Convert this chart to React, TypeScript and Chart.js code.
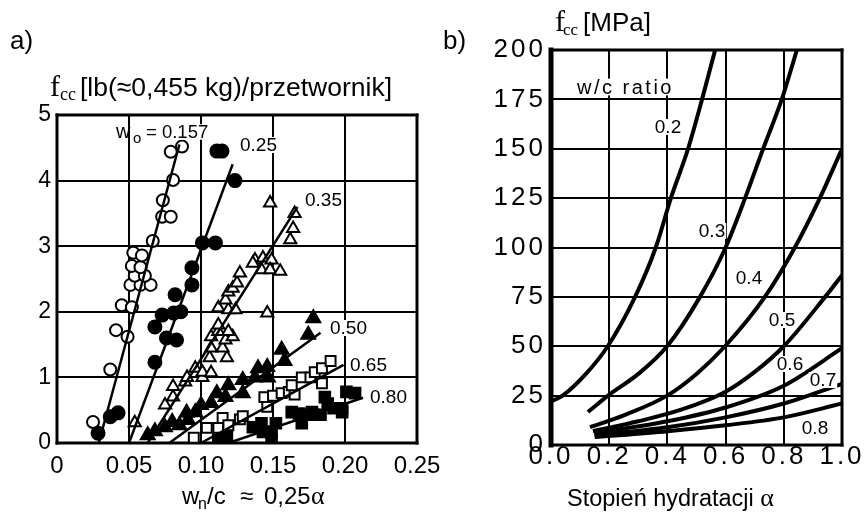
import { useEffect, useRef } from "react";
import { Chart, registerables } from "chart.js";
Chart.register(...registerables);

// ---------------- Panel a data ----------------
const xTicksA = [0, 0.05, 0.1, 0.15, 0.2, 0.25];
const xTickLabelsA = ["0", "0.05", "0.10", "0.15", "0.20", "0.25"];
const yTicksA = [0, 1, 2, 3, 4, 5];

const seriesNamesA = ["0.157", "0.25", "0.35", "0.50", "0.65", "0.80"];

const pts157: [number, number][] = [
  [0.025, 0.32], [0.037, 1.12], [0.041, 1.72], [0.049, 1.62], [0.045, 2.1], [0.052, 2.07],
  [0.051, 2.41], [0.058, 2.41], [0.065, 2.41], [0.054, 2.55], [0.061, 2.55], [0.052, 2.7],
  [0.058, 2.68], [0.053, 2.9], [0.059, 2.86], [0.0665, 3.08], [0.073, 3.45], [0.079, 3.45],
  [0.0735, 3.7], [0.0806, 4.01], [0.079, 4.44], [0.0868, 4.52],
];
const pts025: [number, number][] = [
  [0.0285, 0.15], [0.037, 0.4], [0.0424, 0.46], [0.068, 1.23], [0.068, 1.77], [0.076, 1.6],
  [0.083, 1.57], [0.073, 1.95], [0.081, 1.98], [0.086, 2.0], [0.082, 2.26], [0.0937, 2.41],
  [0.0937, 2.67], [0.101, 3.05], [0.11, 3.05], [0.111, 4.45], [0.1146, 4.45], [0.1236, 4.0],
];
const pts035: [number, number][] = [
  [0.054, 0.31], [0.075, 0.58], [0.0806, 0.7], [0.0806, 0.86], [0.089, 0.93], [0.0903, 1.0],
  [0.101, 1.0], [0.096, 1.14], [0.101, 1.08], [0.107, 1.07], [0.106, 1.3], [0.118, 1.3],
  [0.107, 1.45], [0.115, 1.45], [0.107, 1.62], [0.117, 1.57], [0.122, 1.62], [0.112, 1.7],
  [0.119, 1.7], [0.112, 1.8], [0.112, 2.06], [0.119, 2.03], [0.124, 2.03], [0.117, 2.18],
  [0.119, 2.3], [0.122, 2.36], [0.125, 2.44], [0.127, 2.59], [0.146, 1.98], [0.1375, 2.79],
  [0.143, 2.82], [0.149, 2.79], [0.142, 2.64], [0.148, 2.64], [0.155, 2.62], [0.136, 2.74],
  [0.162, 3.1], [0.164, 3.27], [0.165, 3.5], [0.148, 3.66],
];
const pts050: [number, number][] = [
  [0.063, 0.12], [0.068, 0.18], [0.075, 0.24], [0.08, 0.32], [0.085, 0.27], [0.09, 0.46],
  [0.096, 0.47], [0.091, 0.35], [0.1, 0.58], [0.107, 0.61], [0.111, 0.76], [0.117, 0.7],
  [0.119, 0.88], [0.129, 0.76], [0.129, 0.96], [0.1375, 1.0], [0.1465, 1.0], [0.1396, 1.14],
  [0.146, 1.16], [0.156, 1.42], [0.158, 1.25], [0.1745, 1.65], [0.178, 1.9],
];
const pts065: [number, number][] = [
  [0.095, 0.08], [0.104, 0.23], [0.112, 0.23], [0.115, 0.38], [0.119, 0.27], [0.127, 0.36],
  [0.129, 0.41], [0.146, 0.55], [0.144, 0.7], [0.15, 0.72], [0.156, 0.76], [0.161, 0.78],
  [0.165, 0.74], [0.163, 0.88], [0.17, 1.0], [0.176, 1.0], [0.179, 1.08], [0.184, 1.14],
  [0.184, 0.91], [0.19, 1.25],
];
const pts080: [number, number][] = [
  [0.112, 0.05], [0.118, 0.09], [0.136, 0.24], [0.142, 0.3], [0.143, 0.17], [0.149, 0.17],
  [0.149, 0.05], [0.152, 0.3], [0.163, 0.47], [0.168, 0.45], [0.172, 0.43], [0.177, 0.47],
  [0.17, 0.3], [0.183, 0.43], [0.178, 0.43], [0.186, 0.7], [0.188, 0.6], [0.192, 0.53],
  [0.198, 0.53], [0.198, 0.47], [0.201, 0.78], [0.207, 0.76],
];

const fit157: [number, number][] = [[0.029, 0], [0.085, 4.55]];
const fit025: [number, number][] = [[0.05, 0], [0.122, 4.25]];
const fit035: [number, number][] = [[0.063, 0], [0.167, 3.6]];
const fit050: [number, number][] = [[0.078, 0], [0.183, 1.68]];
const fit065: [number, number][] = [[0.1, 0], [0.199, 1.19]];
const fit080: [number, number][] = [[0.119, 0], [0.2125, 0.69]];

// ---------------- Panel b data ----------------
const xTicksB = [0, 0.2, 0.4, 0.6, 0.8, 1.0];
const xTickLabelsB = ["0.0", "0.2", "0.4", "0.6", "0.8", "1.0"];
const yTicksB = [0, 25, 50, 75, 100, 125, 150, 175, 200];

const wcRatios = ["0.2", "0.3", "0.4", "0.5", "0.6", "0.7", "0.8"];

const alpha02 = [0, 0.04, 0.12, 0.195, 0.289, 0.36, 0.412, 0.471, 0.519, 0.564];
const fcc02 = [22, 25, 36, 50, 75, 100, 125, 150, 175, 200];
const alpha03 = [0.127, 0.196, 0.3, 0.399, 0.512, 0.6, 0.667, 0.729, 0.793, 0.845];
const fcc03 = [16.7, 25, 36, 50, 75, 100, 125, 150, 175, 200];
const alpha04 = [0.134, 0.25, 0.399, 0.5, 0.598, 0.735, 0.838, 0.924, 1.0];
const fcc04 = [9, 15, 25, 36, 50, 75, 100, 125, 150];
const alpha05 = [0.144, 0.3, 0.45, 0.6, 0.7, 0.8, 0.942, 1.0];
const fcc05 = [7, 12, 18, 27, 37, 50, 75, 86];
const alpha06 = [0.148, 0.4, 0.6, 0.8, 1.0];
const fcc06 = [6, 12, 19, 30, 49];
const alpha07 = [0.15, 0.4, 0.6, 0.8, 1.0];
const fcc07 = [5, 9, 14, 21, 31];
const alpha08 = [0.15, 0.4, 0.6, 0.8, 1.0];
const fcc08 = [4, 7, 10, 14, 21];

const SANS = "'Liberation Sans', Arial, sans-serif";
const SERIF = "'Liberation Serif', 'Times New Roman', serif";

type Ctx = CanvasRenderingContext2D;

function text(ctx: Ctx, s: string, x: number, y: number, font: string, align: CanvasTextAlign = "left", baseline: CanvasTextBaseline = "alphabetic", spacing = "0px") {
  ctx.save();
  (ctx as any).letterSpacing = spacing;
  ctx.font = font;
  ctx.fillStyle = "#000";
  ctx.textAlign = align;
  ctx.textBaseline = baseline;
  ctx.fillText(s, x, y);
  const w = ctx.measureText(s).width;
  ctx.restore();
  return w;
}

function boxedLabel(ctx: Ctx, s: string, x: number, y: number, size: number, align: CanvasTextAlign = "left", spacing = "0px") {
  ctx.save();
  (ctx as any).letterSpacing = spacing;
  ctx.font = `${size}px ${SANS}`;
  const w = ctx.measureText(s).width;
  const left = align === "center" ? x - w / 2 : x;
  ctx.fillStyle = "#fff";
  ctx.fillRect(left - 1, y - size * 0.42, w + 2, size * 0.84);
  ctx.fillStyle = "#000";
  ctx.textAlign = "left";
  ctx.textBaseline = "middle";
  ctx.fillText(s, left, y + 1);
  ctx.restore();
}

function frame(ctx: Ctx, a: any, lw: { l: number; t: number; r: number; b: number }) {
  ctx.save();
  ctx.strokeStyle = "#000";
  ctx.lineCap = "square";
  const seg = (w: number, x1: number, y1: number, x2: number, y2: number) => {
    ctx.lineWidth = w;
    ctx.beginPath();
    ctx.moveTo(x1, y1);
    ctx.lineTo(x2, y2);
    ctx.stroke();
  };
  seg(lw.l, a.left, a.top, a.left, a.bottom);
  seg(lw.t, a.left, a.top, a.right, a.top);
  seg(lw.r, a.right, a.top, a.right, a.bottom);
  seg(lw.b, a.left, a.bottom, a.right, a.bottom);
  ctx.restore();
}

const toXY = (p: [number, number][]) => p.map(([x, y]) => ({ x, y }));
const zipXY = (xs: number[], ys: number[]) => xs.map((x, i) => ({ x, y: ys[i] }));

export default function App() {
  const refA = useRef<HTMLCanvasElement>(null);
  const refB = useRef<HTMLCanvasElement>(null);

  useEffect(() => {
    const pointSets = [pts157, pts025, pts035, pts050, pts065, pts080];
    const fits = [fit157, fit025, fit035, fit050, fit065, fit080];
    const styles = ["circle", "circle", "triangle", "triangle", "rect", "rect"];
    const filled = [false, true, false, true, false, true];
    const radii = [6, 6.5, 7, 8, 7, 7.5];

    const datasetsA: any[] = [];
    fits.forEach((f, i) => {
      datasetsA.push({
        label: "fit " + seriesNamesA[i],
        data: toXY(f),
        showLine: true,
        borderColor: "#000",
        borderWidth: 2.5,
        pointRadius: 0,
        order: 0,
      });
    });
    pointSets.forEach((p, i) => {
      datasetsA.push({
        label: "w0 = " + seriesNamesA[i],
        data: toXY(p),
        showLine: false,
        pointStyle: styles[i],
        pointRadius: radii[i],
        pointBackgroundColor: filled[i] ? "#000" : "#fff",
        pointBorderColor: "#000",
        pointBorderWidth: 2,
        order: 1,
      });
    });

    const pluginA = {
      id: "panelA",
      beforeDatasetsDraw(chart: any) {
        frame(chart.ctx, chart.chartArea, { l: 3, t: 3, r: 3, b: 3 });
      },
      afterDraw(chart: any) {
        const ctx: Ctx = chart.ctx;
        text(ctx, "a)", 10, 49, `26px ${SANS}`);
        text(ctx, "f", 50, 96, `30px ${SERIF}`);
        text(ctx, "cc", 60, 100, `18px ${SERIF}`);
        text(ctx, "[lb(≈0,455 kg)/przetwornik]", 80, 96, `26.5px ${SANS}`);
        // x title
        text(ctx, "w", 182, 504, `24px ${SANS}`);
        text(ctx, "n", 198, 509, `16px ${SANS}`);
        text(ctx, "/c", 207, 504, `24px ${SANS}`);
        text(ctx, "≈", 240, 504, `24px ${SANS}`);
        text(ctx, "0,25", 264, 504, `24px ${SANS}`);
        text(ctx, "α", 311, 504, `26px ${SERIF}`);
        // series labels
        text(ctx, "w", 116, 138, `20px ${SANS}`);
        text(ctx, "o", 133, 143, `15px ${SANS}`);
        boxedLabel(ctx, "= 0.157", 146, 132, 18.5);
        boxedLabel(ctx, seriesNamesA[1], 240, 145, 19);
        boxedLabel(ctx, seriesNamesA[2], 305, 200, 19);
        boxedLabel(ctx, seriesNamesA[3], 330, 328, 19);
        boxedLabel(ctx, seriesNamesA[4], 350, 365, 19);
        boxedLabel(ctx, seriesNamesA[5], 370, 397, 19);
      },
    };

    const chartA = new Chart(refA.current!, {
      type: "scatter",
      data: { datasets: datasetsA },
      options: {
        animation: false,
        responsive: false,
        devicePixelRatio: 1,
        layout: { padding: { left: 17, right: 448, top: 115, bottom: 29 } },
        plugins: { legend: { display: false }, tooltip: { enabled: false }, title: { display: false } },
        scales: {
          x: {
            type: "linear",
            min: 0,
            max: 0.25,
            afterBuildTicks: (s: any) => { s.ticks = xTicksA.map((v) => ({ value: v })); },
            afterFit: (s: any) => { s.height = 40; s.paddingLeft = 0; s.paddingRight = 0; },
            ticks: {
              callback: (_v: any, i: number) => xTickLabelsA[i],
              color: "#000",
              font: { family: SANS, size: 24, lineHeight: 1 },
              padding: 11,
              maxRotation: 0,
              autoSkip: false,
            },
            grid: { color: "#000", lineWidth: 2, drawTicks: false },
            border: { display: false },
          },
          y: {
            type: "linear",
            min: 0,
            max: 5,
            afterBuildTicks: (s: any) => { s.ticks = yTicksA.map((v) => ({ value: v })); },
            afterFit: (s: any) => { s.width = 40; s.paddingTop = 0; s.paddingBottom = 0; },
            ticks: {
              callback: (v: any) => String(v),
              color: "#000",
              font: { family: SANS, size: 23, lineHeight: 1 },
              padding: 6,
              autoSkip: false,
            },
            grid: { color: "#000", lineWidth: 2, drawTicks: false },
            border: { display: false },
          },
        },
      } as any,
      plugins: [pluginA],
    });

    // ---------- Panel b ----------
    const curves = [
      zipXY(alpha02, fcc02), zipXY(alpha03, fcc03), zipXY(alpha04, fcc04), zipXY(alpha05, fcc05),
      zipXY(alpha06, fcc06), zipXY(alpha07, fcc07), zipXY(alpha08, fcc08),
    ];
    const datasetsB = curves.map((c, i) => ({
      label: "w/c " + wcRatios[i],
      data: c,
      borderColor: "#000",
      borderWidth: 4,
      pointRadius: 0,
      fill: false,
      cubicInterpolationMode: "monotone",
    }));
    const labelPos: [number, number][] = [
      [668, 127], [712, 231], [749, 278], [782, 320], [790, 364], [823, 380], [815, 428],
    ];

    const pluginB = {
      id: "panelB",
      beforeDraw(chart: any) {
        (chart.ctx as any).letterSpacing = "3px";
      },
      beforeDatasetsDraw(chart: any) {
        frame(chart.ctx, chart.chartArea, { l: 5, t: 3, r: 3, b: 3 });
      },
      afterDraw(chart: any) {
        const ctx: Ctx = chart.ctx;
        (ctx as any).letterSpacing = "0px";
        text(ctx, "b)", 443, 49, `26px ${SANS}`);
        text(ctx, "f", 555, 31, `30px ${SERIF}`);
        text(ctx, "cc", 563, 35, `17px ${SERIF}`);
        text(ctx, "[MPa]", 583, 31, `26px ${SANS}`);
        const w = text(ctx, "Stopień hydratacji ", 567, 506, `23.5px ${SANS}`);
        text(ctx, "α", 567 + w, 506, `26px ${SERIF}`);
        boxedLabel(ctx, "w/c ratio", 577, 87, 20, "left", "2.5px");
        wcRatios.forEach((r, i) => boxedLabel(ctx, r, labelPos[i][0], labelPos[i][1], 19, "center"));
        (ctx as any).letterSpacing = "0px";
      },
    };

    const chartB = new Chart(refB.current!, {
      type: "line",
      data: { datasets: datasetsB as any },
      options: {
        animation: false,
        responsive: false,
        devicePixelRatio: 1,
        layout: { padding: { left: 491, right: 23, top: 50, bottom: 37 } },
        plugins: { legend: { display: false }, tooltip: { enabled: false }, title: { display: false } },
        scales: {
          x: {
            type: "linear",
            min: 0,
            max: 1,
            afterBuildTicks: (s: any) => { s.ticks = xTicksB.map((v) => ({ value: v })); },
            afterFit: (s: any) => { s.height = 30; s.paddingLeft = 0; s.paddingRight = 0; },
            ticks: {
              callback: (_v: any, i: number) => xTickLabelsB[i],
              color: "#000",
              font: { family: SANS, size: 26, lineHeight: 1 },
              padding: -1,
              maxRotation: 0,
              autoSkip: false,
            },
            grid: { color: "#000", lineWidth: 2, drawTicks: false },
            border: { display: false },
          },
          y: {
            type: "linear",
            min: 0,
            max: 200,
            afterBuildTicks: (s: any) => { s.ticks = yTicksB.map((v) => ({ value: v })); },
            afterFit: (s: any) => { s.width = 60; s.paddingTop = 0; s.paddingBottom = 0; },
            ticks: {
              callback: (v: any) => String(v),
              color: "#000",
              font: { family: SANS, size: 26, lineHeight: 1 },
              padding: 5,
              autoSkip: false,
            },
            grid: { color: "#000", lineWidth: 2, drawTicks: false },
            border: { display: false },
          },
        },
      } as any,
      plugins: [pluginB],
    });

    return () => {
      chartA.destroy();
      chartB.destroy();
    };
  }, []);

  const cs: any = { position: "absolute", left: 0, top: 0, width: 865, height: 512 };
  return (
    <div style={{ position: "fixed", left: 0, top: 0, width: 865, height: 512, background: "#fff" }}>
      <canvas ref={refA} width={865} height={512} style={cs} />
      <canvas ref={refB} width={865} height={512} style={cs} />
    </div>
  );
}
